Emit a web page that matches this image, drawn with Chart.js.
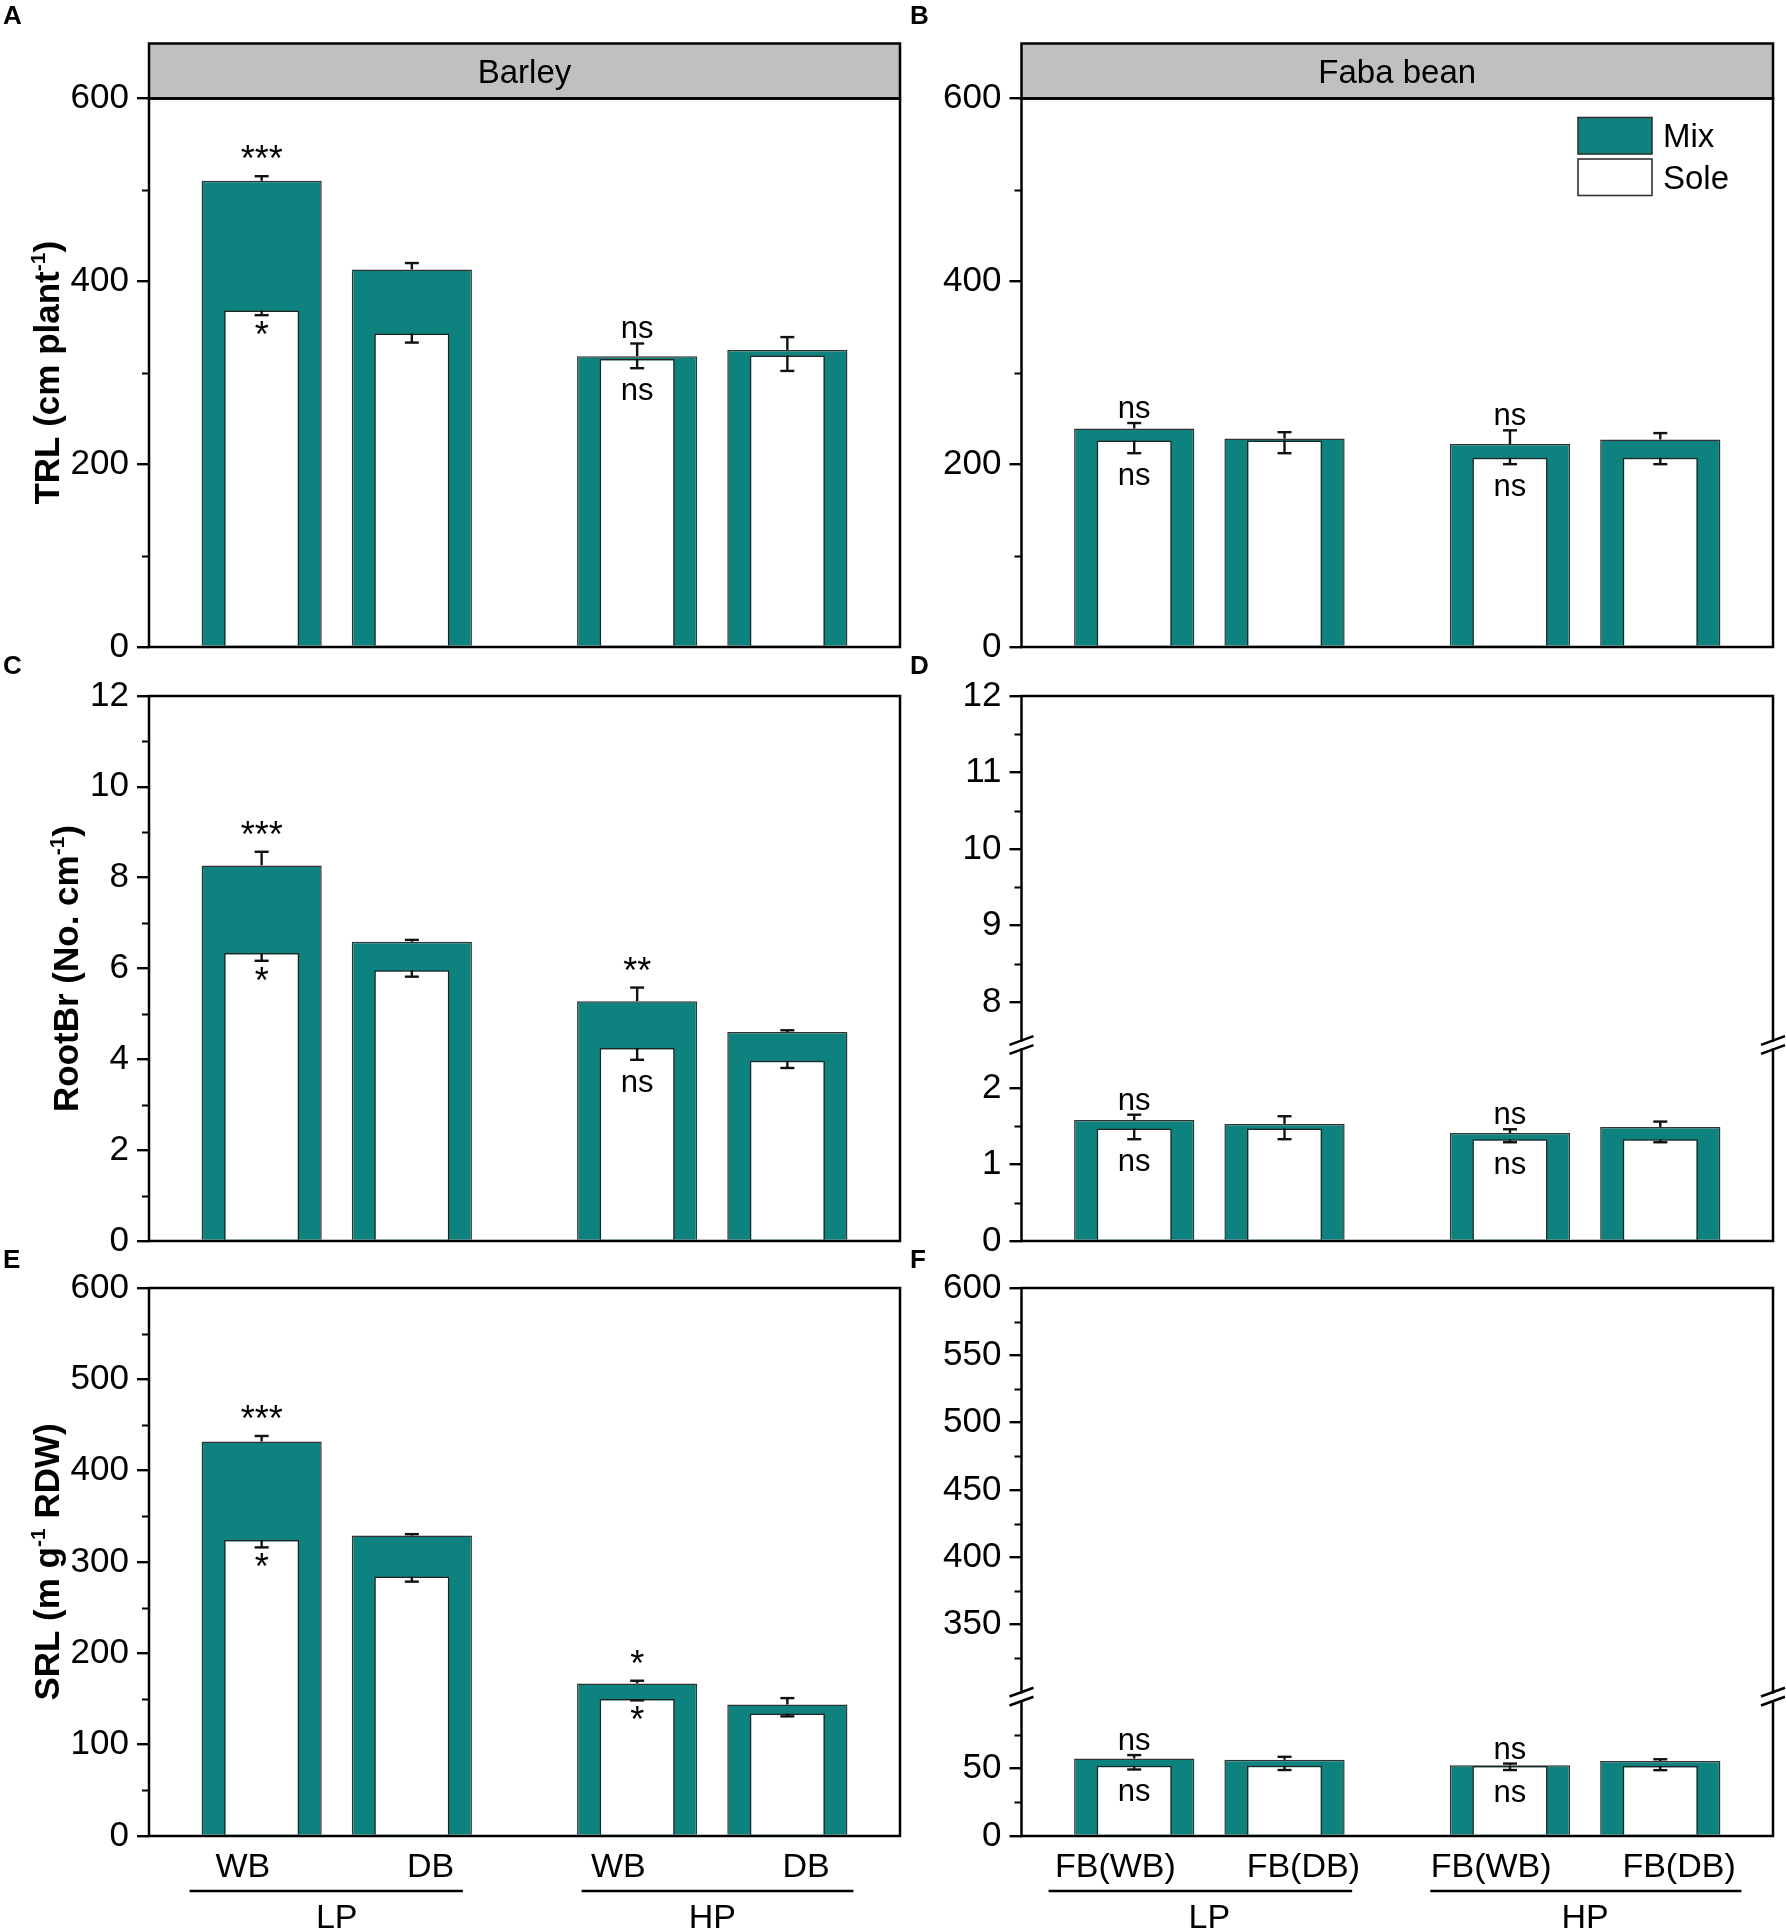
<!DOCTYPE html>
<html>
<head>
<meta charset="utf-8">
<script src="https://cdn.jsdelivr.net/npm/chart.js@4.4.1/dist/chart.umd.min.js"></script>
<style>
html, body { margin: 0; padding: 0; background: #fff; }
#page { position: relative; width: 1786px; height: 1931px; overflow: hidden; background: #fff; }
.pane { position: absolute; }
</style>
</head>
<body>
<div id="page"></div>
<script>
// ---- data ----
const positions = [1, 2, 3.5, 4.5];
const labelPositions = [0.875, 2.125, 3.375, 4.625];
const barleyLabels = ['WB', 'DB', 'WB', 'DB'];
const fabaLabels = ['FB(WB)', 'FB(DB)', 'FB(WB)', 'FB(DB)'];
const groupNames = ['LP', 'HP'];
const groupCentres = [1.5, 4.0];
const barleyGroupLines = [[0.52, 2.34], [3.13, 4.94]];
const fabaGroupLines = [[0.43, 2.45], [2.97, 5.04]];

// TRL (cm plant-1)
const trlBarleyMix = [510, 413, 318, 325];
const trlBarleyMixErr = [5, 7, 14, 14];
const trlBarleySole = [368, 343, 315, 319];
const trlBarleySoleErr = [5, 10, 10, 17];
const trlFabaMix = [239, 228, 222, 227];
const trlFabaMixErr = [6, 7, 15, 7];
const trlFabaSole = [226, 226, 207, 207];
const trlFabaSoleErr = [14, 14, 7, 7];

// RootBr (No. cm-1)
const rbBarleyMix = [8.27, 6.59, 5.28, 4.60];
const rbBarleyMixErr = [0.30, 0.04, 0.30, 0.04];
const rbBarleySole = [6.34, 5.96, 4.25, 3.97];
const rbBarleySoleErr = [0.17, 0.14, 0.26, 0.16];
const rbFabaMix = [1.58, 1.53, 1.41, 1.49];
const rbFabaMixErr = [0.07, 0.10, 0.05, 0.07];
const rbFabaSole = [1.47, 1.47, 1.33, 1.33];
const rbFabaSoleErr = [0.14, 0.14, 0.04, 0.04];

// SRL (m g-1 RDW)
const srlBarleyMix = [432, 329, 167, 144];
const srlBarleyMixErr = [6, 1.5, 3, 7];
const srlBarleySole = [324, 284, 150, 134];
const srlBarleySoleErr = [8, 5.5, 1.5, 3];
const srlFabaMix = [57.6, 56.6, 52.5, 55.7];
const srlFabaMixErr = [2.5, 2.2, 1.3, 1.3];
const srlFabaSole = [52.2, 52.2, 51.9, 51.9];
const srlFabaSoleErr = [2.8, 3.2, 2.9, 3.0];

// significance marks: above the Mix bar / below the Sole bar
const trlBarleySigMix = ['***', '', 'ns', ''];
const trlBarleySigSole = ['*', '', 'ns', ''];
const trlFabaSigMix = ['ns', '', 'ns', ''];
const trlFabaSigSole = ['ns', '', 'ns', ''];
const rbBarleySigMix = ['***', '', '**', ''];
const rbBarleySigSole = ['*', '', 'ns', ''];
const rbFabaSigMix = ['ns', '', 'ns', ''];
const rbFabaSigSole = ['ns', '', 'ns', ''];
const srlBarleySigMix = ['***', '', '*', ''];
const srlBarleySigSole = ['*', '', '*', ''];
const srlFabaSigMix = ['ns', '', 'ns', ''];
const srlFabaSigSole = ['ns', '', 'ns', ''];

// y ticks
const trlTicks = [0, 200, 400, 600];
const trlMinor = [100, 300, 500];
const rbBarleyTicks = [0, 2, 4, 6, 8, 10, 12];
const rbBarleyMinor = [1, 3, 5, 7, 9, 11];
const rbFabaTicks = [0, 1, 2, 8, 9, 10, 11, 12];
const rbFabaMinor = [0.5, 1.5, 8.5, 9.5, 10.5, 11.5];
const srlBarleyTicks = [0, 100, 200, 300, 400, 500, 600];
const srlBarleyMinor = [50, 150, 250, 350, 450, 550];
const srlFabaTicks = [0, 50, 350, 400, 450, 500, 550, 600];
const srlFabaMinor = [25, 75, 325, 375, 425, 475, 525, 575];
const rbFabaBreak = { low: 2.5, high: 7.5, gap: 0.12 };
const srlFabaBreak = { low: 100, high: 300, gap: 7 };

// ---- styling / layout ----
const FONT = "'Liberation Sans', Arial, sans-serif";
const TEAL = '#0e827e';
const cols = [
  { left: 0, width: 915, caLeft: 149, caRight: 900 },
  { left: 900, width: 886, caLeft: 1021.5, caRight: 1773 }
];
const rows = [
  { top: 0, height: 680, caTop: 98.5, caBottom: 647, letterY: 24 },
  { top: 650, height: 620, caTop: 696, caBottom: 1244, letterY: 674 },
  { top: 1245, height: 686, caTop: 1288, caBottom: 1836, letterY: 1268 }
];

const panels = [
  { row: 0, col: 0, letter: 'A', header: 'Barley', title: [['TRL (cm plant', 0], ['-1', 1], [')', 0]],
    mix: trlBarleyMix, mixErr: trlBarleyMixErr, sole: trlBarleySole, soleErr: trlBarleySoleErr,
    sigMix: trlBarleySigMix, sigSole: trlBarleySigSole, ticks: trlTicks, minor: trlMinor, max: 600 },
  { row: 0, col: 1, letter: 'B', header: 'Faba bean', legend: true,
    mix: trlFabaMix, mixErr: trlFabaMixErr, sole: trlFabaSole, soleErr: trlFabaSoleErr,
    sigMix: trlFabaSigMix, sigSole: trlFabaSigSole, ticks: trlTicks, minor: trlMinor, max: 600 },
  { row: 1, col: 0, letter: 'C', title: [['RootBr (No. cm', 0], ['-1', 1], [')', 0]],
    mix: rbBarleyMix, mixErr: rbBarleyMixErr, sole: rbBarleySole, soleErr: rbBarleySoleErr,
    sigMix: rbBarleySigMix, sigSole: rbBarleySigSole, ticks: rbBarleyTicks, minor: rbBarleyMinor, max: 12 },
  { row: 1, col: 1, letter: 'D', brk: rbFabaBreak,
    mix: rbFabaMix, mixErr: rbFabaMixErr, sole: rbFabaSole, soleErr: rbFabaSoleErr,
    sigMix: rbFabaSigMix, sigSole: rbFabaSigSole, ticks: rbFabaTicks, minor: rbFabaMinor, max: 12 },
  { row: 2, col: 0, letter: 'E', title: [['SRL (m g', 0], ['-1', 1], [' RDW)', 0]],
    mix: srlBarleyMix, mixErr: srlBarleyMixErr, sole: srlBarleySole, soleErr: srlBarleySoleErr,
    sigMix: srlBarleySigMix, sigSole: srlBarleySigSole, ticks: srlBarleyTicks, minor: srlBarleyMinor, max: 600,
    labels: barleyLabels, groupLines: barleyGroupLines },
  { row: 2, col: 1, letter: 'F', brk: srlFabaBreak,
    mix: srlFabaMix, mixErr: srlFabaMixErr, sole: srlFabaSole, soleErr: srlFabaSoleErr,
    sigMix: srlFabaSigMix, sigSole: srlFabaSigSole, ticks: srlFabaTicks, minor: srlFabaMinor, max: 600,
    labels: fabaLabels, groupLines: fabaGroupLines }
];

// broken axis: values above the break are shifted down onto the axis
function toAxis(v, brk) {
  if (!brk || v <= brk.low) return v;
  return v - brk.high + brk.low + brk.gap;
}

function errBar(ctx, cx, y0, y1) {
  ctx.beginPath(); ctx.moveTo(cx, y0); ctx.lineTo(cx, y1); ctx.stroke();
  ctx.beginPath(); ctx.moveTo(cx - 7, y1); ctx.lineTo(cx + 7, y1); ctx.stroke();
}

function sigFont(s) {
  // the asterisks in the figure are set larger than "ns"
  return (s.indexOf('*') >= 0 ? '36px ' : '31px ') + FONT;
}

function drawTitle(ctx, parts, bx, cy) {
  const big = 'bold 35px ' + FONT, small = 'bold 21px ' + FONT;
  let total = 0;
  parts.forEach(([t, s]) => { ctx.font = s ? small : big; total += ctx.measureText(t).width; });
  ctx.save();
  ctx.translate(bx, cy);
  ctx.rotate(-Math.PI / 2);
  ctx.textAlign = 'left';
  ctx.textBaseline = 'alphabetic';
  let x = -total / 2;
  parts.forEach(([t, s]) => {
    ctx.font = s ? small : big;
    ctx.fillText(t, x, s ? -14 : 0);
    x += ctx.measureText(t).width;
  });
  ctx.restore();
}

function decorPlugin(p, col, row) {
  return {
    id: 'decor',
    afterDatasetsDraw(chart) {
      const ctx = chart.ctx, xs = chart.scales.x, ys = chart.scales.y;
      const py = v => ys.getPixelForValue(toAxis(v, p.brk));
      ctx.save();
      ctx.strokeStyle = '#111';
      ctx.lineWidth = 2.4;
      positions.forEach((pos, i) => {
        const cx = xs.getPixelForValue(pos);
        errBar(ctx, cx, py(p.mix[i]), py(p.mix[i] + p.mixErr[i]));
        errBar(ctx, cx, py(p.sole[i]), py(p.sole[i] - p.soleErr[i]));
      });
      ctx.fillStyle = '#000';
      ctx.textAlign = 'center';
      ctx.textBaseline = 'alphabetic';
      positions.forEach((pos, i) => {
        const cx = xs.getPixelForValue(pos);
        if (p.sigMix[i]) {
          ctx.font = sigFont(p.sigMix[i]);
          ctx.fillText(p.sigMix[i], cx, py(p.mix[i] + p.mixErr[i]) - 5);
        }
        if (p.sigSole[i]) {
          ctx.font = sigFont(p.sigSole[i]);
          ctx.fillText(p.sigSole[i], cx, py(p.sole[i] - p.soleErr[i]) + 32);
        }
      });
      ctx.restore();
    },
    afterDraw(chart) {
      const ctx = chart.ctx, ca = chart.chartArea, xs = chart.scales.x, ys = chart.scales.y;
      ctx.save();
      ctx.strokeStyle = '#000';
      ctx.fillStyle = '#000';
      ctx.lineWidth = 2.5;
      ctx.lineCap = 'square';

      // header strip
      if (p.header) {
        const top = ca.top - 55;
        ctx.fillStyle = '#c0c0c0';
        ctx.fillRect(ca.left, top, ca.right - ca.left, ca.top - top);
        ctx.strokeRect(ca.left, top, ca.right - ca.left, ca.top - top);
        ctx.fillStyle = '#000';
        ctx.font = '33px ' + FONT;
        ctx.textAlign = 'center';
        ctx.textBaseline = 'alphabetic';
        ctx.fillText(p.header, (ca.left + ca.right) / 2, ca.top - 16);
      }

      // frame, with a gap where the axis is broken
      ctx.beginPath();
      ctx.moveTo(ca.left, ca.top); ctx.lineTo(ca.right, ca.top);
      ctx.moveTo(ca.left, ca.bottom); ctx.lineTo(ca.right, ca.bottom);
      if (p.brk) {
        const yb = ys.getPixelForValue(p.brk.low + p.brk.gap / 2);
        [ca.left, ca.right].forEach(ax => {
          ctx.moveTo(ax, ca.top); ctx.lineTo(ax, yb - 4.5);
          ctx.moveTo(ax, yb + 4.5); ctx.lineTo(ax, ca.bottom);
        });
        ctx.stroke();
        ctx.lineCap = 'butt';
        ctx.beginPath();
        [ca.left, ca.right].forEach(ax => {
          [yb - 4.5, yb + 4.5].forEach(yy => {
            ctx.moveTo(ax - 12, yy + 4.4); ctx.lineTo(ax + 12, yy - 4.4);
          });
        });
        ctx.stroke();
        ctx.lineCap = 'square';
      } else {
        ctx.moveTo(ca.left, ca.top); ctx.lineTo(ca.left, ca.bottom);
        ctx.moveTo(ca.right, ca.top); ctx.lineTo(ca.right, ca.bottom);
        ctx.stroke();
      }

      // minor ticks
      ctx.lineCap = 'butt';
      ctx.lineWidth = 2.2;
      ctx.beginPath();
      p.minor.forEach(v => {
        const y = Math.round(ys.getPixelForValue(toAxis(v, p.brk))) + 0.5;
        ctx.moveTo(ca.left - 7, y); ctx.lineTo(ca.left, y);
      });
      ctx.stroke();

      // y title
      if (p.title) {
        ctx.font = '35px ' + FONT;
        const w = Math.max(...p.ticks.map(t => ctx.measureText(String(t)).width));
        drawTitle(ctx, p.title, ca.left - 20 - w - 12, (ca.top + ca.bottom) / 2);
      }

      // legend
      if (p.legend) {
        const bx = ca.right - 195, bw = 74, bh = 36.5;
        const items = [['Mix', TEAL, ca.top + 19], ['Sole', '#fff', ca.top + 60.5]];
        ctx.font = '33px ' + FONT;
        ctx.textAlign = 'left';
        ctx.textBaseline = 'alphabetic';
        ctx.lineWidth = 1.6;
        ctx.strokeStyle = '#333';
        items.forEach(([name, fill, by]) => {
          ctx.fillStyle = fill;
          ctx.fillRect(bx, by, bw, bh);
          ctx.strokeRect(bx, by, bw, bh);
          ctx.fillStyle = '#000';
          ctx.fillText(name, bx + bw + 11, by + bh / 2 + 11.5);
        });
      }

      // group lines and group names under the bottom row
      if (p.groupLines) {
        ctx.strokeStyle = '#000';
        ctx.lineWidth = 2.5;
        ctx.beginPath();
        p.groupLines.forEach(([a, b]) => {
          ctx.moveTo(xs.getPixelForValue(a), ca.bottom + 55);
          ctx.lineTo(xs.getPixelForValue(b), ca.bottom + 55);
        });
        ctx.stroke();
        ctx.font = '34px ' + FONT;
        ctx.textAlign = 'center';
        ctx.textBaseline = 'alphabetic';
        groupNames.forEach((g, i) => ctx.fillText(g, xs.getPixelForValue(groupCentres[i]), ca.bottom + 91.5));
      }

      // panel letter
      ctx.font = 'bold 26px ' + FONT;
      ctx.textAlign = 'left';
      ctx.textBaseline = 'alphabetic';
      ctx.fillText(p.letter, col.left === 0 ? 3 : 10, row.letterY - row.top);
      ctx.restore();
    }
  };
}

const page = document.getElementById('page');
Chart.defaults.font.family = FONT;
Chart.defaults.color = '#000';

panels.forEach(p => {
  const col = cols[p.col], row = rows[p.row];
  const div = document.createElement('div');
  div.className = 'pane';
  div.style.left = col.left + 'px';
  div.style.top = row.top + 'px';
  div.style.width = col.width + 'px';
  div.style.height = row.height + 'px';
  const canvas = document.createElement('canvas');
  div.appendChild(canvas);
  page.appendChild(div);

  const yAxisWidth = col.caLeft - col.left;
  const xAxisHeight = row.top + row.height - row.caBottom;

  new Chart(canvas, {
    type: 'bar',
    data: {
      datasets: [
        {
          label: 'Sole',
          data: positions.map((x, i) => ({ x: x, y: toAxis(p.sole[i], p.brk) })),
          backgroundColor: '#fff', borderColor: '#222', borderWidth: 1.5,
          grouped: false, categoryPercentage: 1, barPercentage: 0.5, order: 1
        },
        {
          label: 'Mix',
          data: positions.map((x, i) => ({ x: x, y: toAxis(p.mix[i], p.brk) })),
          backgroundColor: TEAL, borderColor: '#333', borderWidth: 1.5,
          grouped: false, categoryPercentage: 1, barPercentage: 0.8, order: 2
        }
      ]
    },
    options: {
      responsive: true,
      maintainAspectRatio: false,
      animation: false,
      layout: { padding: { top: row.caTop - row.top, right: col.left + col.width - col.caRight, bottom: 0, left: 0 } },
      plugins: { legend: { display: false }, tooltip: { enabled: false } },
      scales: {
        x: {
          type: 'linear', min: 0.25, max: 5.25, offset: false,
          afterBuildTicks: s => { s.ticks = labelPositions.map(v => ({ value: v })); },
          afterFit: s => { s.height = xAxisHeight; },
          grid: { display: false }, border: { display: false },
          ticks: {
            display: !!p.labels, autoSkip: false, maxRotation: 0, minRotation: 0, padding: 3,
            font: { size: 34, family: FONT }, color: '#000',
            callback: (v, i) => p.labels ? p.labels[i] : ''
          }
        },
        y: {
          type: 'linear', min: 0, max: toAxis(p.max, p.brk),
          afterBuildTicks: s => { s.ticks = p.ticks.map(v => ({ value: toAxis(v, p.brk) })); },
          afterFit: s => { s.width = yAxisWidth; },
          grid: { drawOnChartArea: false, drawTicks: true, tickLength: 12, color: '#000', lineWidth: 2.4 },
          border: { display: false },
          ticks: {
            autoSkip: false, padding: 8, font: { size: 35, family: FONT }, color: '#000',
            callback: (v, i) => String(p.ticks[i])
          }
        }
      }
    },
    plugins: [decorPlugin(p, col, row)]
  });
});
</script>
</body>
</html>
